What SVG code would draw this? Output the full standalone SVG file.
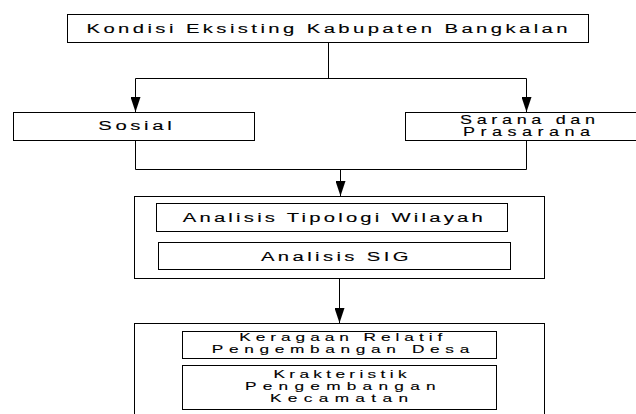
<svg xmlns="http://www.w3.org/2000/svg" width="636" height="414" viewBox="0 0 636 414">
<defs>
<marker id="arr" markerWidth="15" markerHeight="10" refX="15" refY="5" orient="auto" markerUnits="userSpaceOnUse" viewBox="0 0 15 10">
<path d="M0,0 L15,5 L0,10 Z" fill="#000"/>
</marker>
</defs>
<style>
.box{fill:#fff;stroke:#000;stroke-width:1}
.ln{fill:none;stroke:#000;stroke-width:1}
.t{font-family:"Liberation Sans",Arial,sans-serif;font-size:13.5px;fill:#000;stroke:#000;stroke-width:0.12;text-anchor:middle}
.m{font-size:12px}
.s{font-size:11.5px}
</style>
<rect width="636" height="414" fill="#fff"/>
<g id="connectors">
<path class="ln" d="M328.5,42 V78.5"/>
<path class="ln" d="M135.5,78.5 H526.5"/>
<path class="ln" d="M135.5,78.5 V112" marker-end="url(#arr)"/>
<path class="ln" d="M526.5,78.5 V112" marker-end="url(#arr)"/>
<path class="ln" d="M135.5,141 V169.5 H526.5 V141"/>
<path class="ln" d="M340.5,169.5 V196" marker-end="url(#arr)"/>
<path class="ln" d="M339.5,279 V323" marker-end="url(#arr)"/>
</g>
<g id="kondisi">
<rect class="box" x="67.5" y="14.5" width="521" height="28"/>
<g transform="translate(327,32.5) scale(1.5,1)"><text class="t" x="0" y="0" textLength="320.7" lengthAdjust="spacing">Kondisi Eksisting Kabupaten Bangkalan</text></g>
</g>
<g id="sosial">
<rect class="box" x="13.5" y="112.5" width="241" height="28"/>
<g transform="translate(135,130) scale(1.5,1)"><text class="t" x="0" y="0" textLength="48.9" lengthAdjust="spacing">Sosial</text></g>
</g>
<g id="sarana">
<rect class="box" x="405.5" y="112.5" width="240" height="28"/>
<g transform="translate(527.5,123.5) scale(1.5,1)"><text class="t m" x="0" y="0" textLength="90" lengthAdjust="spacing">Sarana dan</text></g>
<g transform="translate(526.5,136) scale(1.5,1)"><text class="t m" x="0" y="0" textLength="84.7" lengthAdjust="spacing">Prasarana</text></g>
</g>
<g id="analisis">
<rect class="box" x="134.5" y="196.5" width="410" height="82"/>
<g id="tipologi">
<rect class="box" x="156.5" y="203.5" width="351" height="28"/>
<g transform="translate(332.7,221.5) scale(1.5,1)"><text class="t" x="0" y="0" textLength="200" lengthAdjust="spacing">Analisis Tipologi Wilayah</text></g>
</g>
<g id="sig">
<rect class="box" x="158.5" y="242.5" width="352" height="27"/>
<g transform="translate(334.7,260.5) scale(1.5,1)"><text class="t" x="0" y="0" textLength="98.3" lengthAdjust="spacing">Analisis SIG</text></g>
</g>
</g>
<g id="hasil">
<rect class="box" x="134.5" y="323.5" width="410" height="100"/>
<g id="keragaan">
<rect class="box" x="182.5" y="331.5" width="314" height="27"/>
<g transform="translate(340.8,341) scale(1.5,1)"><text class="t s" x="0" y="0" textLength="135.3" lengthAdjust="spacing">Keragaan Relatif</text></g>
<g transform="translate(340.5,353) scale(1.5,1)"><text class="t s" x="0" y="0" textLength="171.7" lengthAdjust="spacing">Pengembangan Desa</text></g>
</g>
<g id="krakteristik">
<rect class="box" x="182.5" y="365.5" width="314" height="44"/>
<g transform="translate(340,378) scale(1.5,1)"><text class="t s" x="0" y="0" textLength="88.7" lengthAdjust="spacing">Krakteristik</text></g>
<g transform="translate(340.3,390) scale(1.5,1)"><text class="t s" x="0" y="0" textLength="127.1" lengthAdjust="spacing">Pengembangan</text></g>
<g transform="translate(339,401.7) scale(1.5,1)"><text class="t s" x="0" y="0" textLength="92" lengthAdjust="spacing">Kecamatan</text></g>
</g>
</g>
</svg>
